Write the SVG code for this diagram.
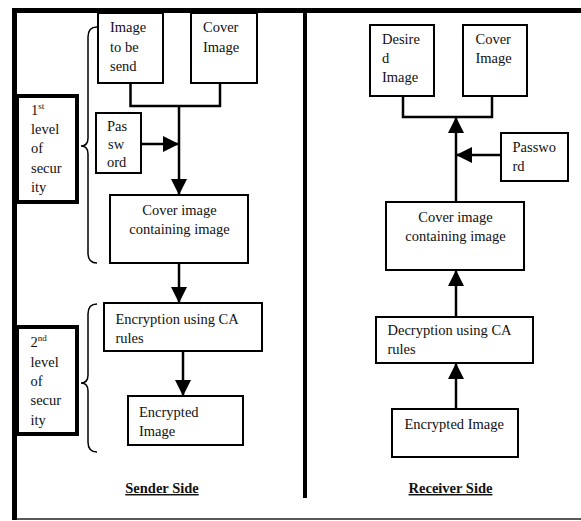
<svg xmlns="http://www.w3.org/2000/svg" width="581" height="521" viewBox="0 0 581 521">
<defs>
<marker id="ah" markerUnits="userSpaceOnUse" markerWidth="16" markerHeight="16" refX="16" refY="8" orient="auto" viewBox="0 0 16 16">
<path d="M0,0 L16,8 L0,16 Z" fill="#000"/>
</marker>
</defs>
<style>
text{font-family:"Liberation Serif","Times New Roman",serif;font-size:14.5px;fill:#111}
.box{fill:#fff;stroke:#000;stroke-width:2}
.lvl{fill:#fff;stroke:#000;stroke-width:4}
.conn{fill:none;stroke:#000;stroke-width:2.5}
.brace{fill:none;stroke:#000;stroke-width:1.5}
.sup{font-size:9px}
.title{font-weight:bold;text-decoration:underline}
</style>
<rect x="0" y="0" width="581" height="521" fill="#fff"/>
<g id="frame">
<line x1="12" y1="10.5" x2="581" y2="10.5" stroke="#000" stroke-width="5"/>
<line x1="14.5" y1="8" x2="14.5" y2="520" stroke="#000" stroke-width="5"/>
<line x1="17" y1="519" x2="581" y2="519" stroke="#222" stroke-width="1.5"/>
<line x1="305" y1="13" x2="305" y2="498" stroke="#000" stroke-width="4"/>
</g>
<g id="connectors">
<path class="conn" d="M130.5,83 V106 H220 V83"/>
<line class="conn" x1="179" y1="106" x2="179" y2="195" marker-end="url(#ah)"/>
<line class="conn" x1="141" y1="144" x2="179" y2="144" marker-end="url(#ah)"/>
<line class="conn" x1="179" y1="263" x2="179" y2="303" marker-end="url(#ah)"/>
<line class="conn" x1="183" y1="351" x2="183" y2="396" marker-end="url(#ah)"/>
<path class="conn" d="M403,96 V117 H492 V96"/>
<line class="conn" x1="456" y1="202" x2="456" y2="117" marker-end="url(#ah)"/>
<line class="conn" x1="501" y1="155" x2="456" y2="155" marker-end="url(#ah)"/>
<line class="conn" x1="456" y1="317" x2="456" y2="270" marker-end="url(#ah)"/>
<line class="conn" x1="456" y1="409" x2="456" y2="363" marker-end="url(#ah)"/>
</g>
<g id="brace1"><path class="brace" d="M97,27 Q88,27 88,37 L88,138 Q88,146 81,146 Q88,146 88,154 L88,253 Q88,263 97,263"/></g>
<g id="brace2"><path class="brace" d="M97,304 Q88,304 88,314 L88,375 Q88,383 81,383 Q88,383 88,391 L88,442 Q88,452 97,452"/></g>
<g id="level1">
<rect class="lvl" x="17" y="96" width="60" height="106"/>
<text x="31" y="115">1<tspan class="sup" dy="-6">st</tspan></text>
<text x="31" y="134">level</text>
<text x="31" y="153">of</text>
<text x="31" y="173">secur</text>
<text x="31" y="192">ity</text>
</g>
<g id="level2">
<rect class="lvl" x="17" y="327" width="60" height="107"/>
<text x="30.5" y="347">2<tspan class="sup" dy="-6">nd</tspan></text>
<text x="30.5" y="366.5">level</text>
<text x="30.5" y="385.5">of</text>
<text x="30.5" y="405">secur</text>
<text x="30.5" y="424.5">ity</text>
</g>
<g id="s_image">
<rect class="box" x="98" y="13" width="65" height="70"/>
<text x="110" y="32">Image</text>
<text x="110" y="51.5">to be</text>
<text x="110" y="71">send</text>
</g>
<g id="s_cover">
<rect class="box" x="191" y="13" width="66" height="70"/>
<text x="203" y="32">Cover</text>
<text x="203" y="51.5">Image</text>
</g>
<g id="s_password">
<rect class="box" x="96" y="113" width="45" height="60"/>
<text x="107" y="131">Pas</text>
<text x="108" y="149">sw</text>
<text x="107" y="167">ord</text>
</g>
<g id="s_cover_containing">
<rect class="box" x="110" y="195" width="138" height="68"/>
<text x="179.5" y="215" text-anchor="middle">Cover image</text>
<text x="179.5" y="233.5" text-anchor="middle">containing image</text>
</g>
<g id="s_encryption">
<rect class="box" x="104" y="303" width="158" height="48"/>
<text x="115.5" y="324">Encryption using CA</text>
<text x="115.5" y="343">rules</text>
</g>
<g id="s_encrypted">
<rect class="box" x="128" y="396" width="115" height="49"/>
<text x="139" y="417">Encrypted</text>
<text x="139" y="436">Image</text>
</g>
<g id="sender_label"><text class="title" x="162" y="493" text-anchor="middle">Sender Side</text></g>
<g id="r_desired">
<rect class="box" x="370" y="25" width="64" height="71"/>
<text x="382" y="43.5">Desire</text>
<text x="382" y="63">d</text>
<text x="382" y="82">Image</text>
</g>
<g id="r_cover">
<rect class="box" x="463" y="25" width="64" height="71"/>
<text x="475.5" y="43.5">Cover</text>
<text x="475.5" y="63">Image</text>
</g>
<g id="r_password">
<rect class="box" x="501" y="133" width="67" height="48"/>
<text x="512.5" y="152">Passwo</text>
<text x="512.5" y="171">rd</text>
</g>
<g id="r_cover_containing">
<rect class="box" x="386" y="202" width="138" height="68"/>
<text x="455.5" y="222" text-anchor="middle">Cover image</text>
<text x="455.5" y="240.5" text-anchor="middle">containing image</text>
</g>
<g id="r_decryption">
<rect class="box" x="376" y="317" width="157" height="46"/>
<text x="387.5" y="335">Decryption using CA</text>
<text x="387.5" y="353.5">rules</text>
</g>
<g id="r_encrypted">
<rect class="box" x="392" y="409" width="126" height="48"/>
<text x="404.5" y="428.5">Encrypted Image</text>
</g>
<g id="receiver_label"><text class="title" x="450.5" y="493" text-anchor="middle">Receiver Side</text></g>
</svg>
